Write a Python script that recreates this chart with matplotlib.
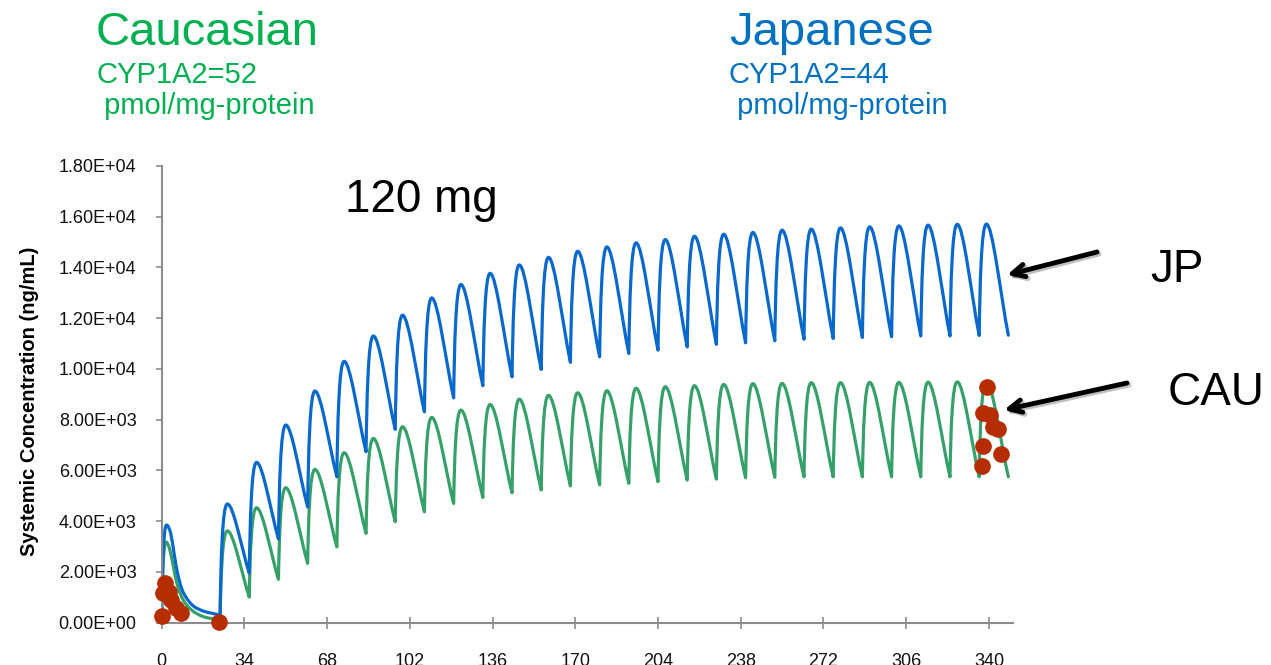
import matplotlib
matplotlib.use("Agg")
import matplotlib.pyplot as plt
import matplotlib.patheffects as pe
from matplotlib.path import Path
from matplotlib.patches import PathPatch
from matplotlib.ticker import FuncFormatter

plt.rcParams['font.family'] = ['Liberation Sans', 'DejaVu Sans']

# dosing schedule (h): single dose, then q12h from 24 h
dose_times = [0] + list(range(24, 337, 12))
end_time = 348

# simulated peaks after each dose and troughs at the end of each interval (ng/mL)
jp_peak = [3850, 4680, 6320, 7790, 9130, 10300, 11300, 12120, 12800, 13330,
           13770, 14100, 14400, 14640, 14810, 14970, 15100, 15230, 15310, 15380,
           15470, 15510, 15560, 15600, 15640, 15670, 15700, 15710]
jp_trough = [300, 1950, 3300, 4560, 5750, 6740, 7620, 8310, 8860, 9340,
             9690, 9980, 10260, 10480, 10610, 10740, 10870, 10970, 11030, 11110,
             11170, 11200, 11240, 11270, 11300, 11300, 11320, 11330]
cau_peak = [3180, 3620, 4530, 5320, 6040, 6700, 7260, 7720, 8090, 8380,
            8600, 8810, 8960, 9060, 9140, 9240, 9300, 9340, 9390, 9420,
            9430, 9460, 9460, 9470, 9470, 9480, 9490, 9490]
cau_trough = [110, 1010, 1710, 2340, 2990, 3520, 3980, 4370, 4700, 4940,
              5120, 5230, 5390, 5430, 5490, 5560, 5620, 5660, 5710, 5730,
              5750, 5750, 5750, 5750, 5750, 5750, 5750, 5750]

# time of peak after the first dose / later doses (h)
jp_tmax = (2.0, 3.0)
cau_tmax = (1.8, 3.0)

# decline after the single first dose
jp_tail_t = [3.7, 5.1, 6.4, 8.2, 10.3, 13.0, 17.1]
jp_tail_c = [3520, 2730, 2010, 1350, 960, 660, 460]
cau_tail_t = [3.4, 4.8, 6.4, 8.9, 12.3, 17.1]
cau_tail_c = [2860, 2210, 1490, 890, 500, 240]

# observed concentrations
obs_t = [0.3, 0.4, 1.5, 3.0, 3.8, 5.9, 7.9, 23.6,
         339.1, 337.7, 340.6, 341.6, 343.6, 337.7, 345.0, 337.0]
obs_c = [260, 1180, 1570, 1200, 890, 570, 370, 30,
         9300, 8250, 8180, 7700, 7620, 6960, 6650, 6170]

JP_BLUE = '#0868CC'
CAU_GREEN = '#36A06A'
OBS_RED = '#B62D02'
AXIS_GRAY = '#8C8C8C'


def profile_path(peaks, troughs, tmax, tail_t, tail_c):
    t_ends = dose_times[1:] + [end_time]
    verts, codes = [(0, 0)], [Path.MOVETO]
    c_start = 0
    for i, (t0, t1) in enumerate(zip(dose_times, t_ends)):
        cp, c1 = peaks[i], troughs[i]
        tp = t0 + (tmax[0] if i == 0 else tmax[1])
        hr = tp - t0
        # absorption: steep rise rounding into the peak
        verts += [(t0 + 0.1 * hr, c_start + 0.45 * (cp - c_start)),
                  (tp - 0.7 * hr, cp), (tp, cp)]
        codes += [Path.CURVE4] * 3
        if i == 0:
            ts = [tp] + tail_t + [t1]
            cs = [cp] + tail_c + [c1]
            slopes = [0.0]
            for k in range(1, len(ts) - 1):
                slopes.append((cs[k + 1] - cs[k - 1]) / (ts[k + 1] - ts[k - 1]))
            slopes.append((cs[-1] - cs[-2]) / (ts[-1] - ts[-2]))
            for k in range(len(ts) - 1):
                h = ts[k + 1] - ts[k]
                verts += [(ts[k] + h / 3, cs[k] + slopes[k] * h / 3),
                          (ts[k + 1] - h / 3, cs[k + 1] - slopes[k + 1] * h / 3),
                          (ts[k + 1], cs[k + 1])]
                codes += [Path.CURVE4] * 3
        else:
            h = t1 - tp
            verts += [(tp + 0.28 * h, cp),
                      (t1 - 0.35 * h, c1 + 0.35 * (cp - c1)), (t1, c1)]
            codes += [Path.CURVE4] * 3
        c_start = c1
    return Path(verts, codes)


fig = plt.figure(figsize=(12.71, 6.65), dpi=100)
ax = fig.add_axes([0.1272, 0.0636, 0.6700, 0.6868])

ax.add_patch(PathPatch(profile_path(cau_peak, cau_trough, cau_tmax, cau_tail_t, cau_tail_c),
                       fill=False, edgecolor=CAU_GREEN, lw=2.3, capstyle='round', joinstyle='round'))
ax.add_patch(PathPatch(profile_path(jp_peak, jp_trough, jp_tmax, jp_tail_t, jp_tail_c),
                       fill=False, edgecolor=JP_BLUE, lw=2.3, capstyle='round', joinstyle='round'))
ax.plot(obs_t, obs_c, 'o', color=OBS_RED, ms=11, mec=OBS_RED, zorder=5, clip_on=False)

ax.set_xlim(0, 350)
ax.set_ylim(0, 18000)
ax.set_xticks(range(0, 341, 34))
ax.set_yticks(range(0, 18001, 2000))
ax.yaxis.set_major_formatter(FuncFormatter(lambda v, p: f"{v:.2E}"))

for side in ['top', 'right']:
    ax.spines[side].set_visible(False)
for side in ['left', 'bottom']:
    ax.spines[side].set_color(AXIS_GRAY)
    ax.spines[side].set_linewidth(1.5)
ax.tick_params(axis='y', direction='out', length=4, width=1.2, color=AXIS_GRAY,
               labelsize=13, pad=14, labelcolor='#111111')
ax.tick_params(axis='x', direction='inout', length=8, width=1.2, color=AXIS_GRAY,
               labelsize=13, pad=18, labelcolor='#111111')

fig.text(30 / 1271, 1 - 401 / 665, 'Systemic Concentration (ng/mL)', rotation=90,
         ha='center', va='center', fontsize=14.5, fontweight='bold')

fig.text(345 / 1271, 1 - 212 / 665, '120 mg', fontsize=33, color='black')

fig.text(96 / 1271, 1 - 45 / 665, 'Caucasian', fontsize=34, color='#00B050')
fig.text(96 / 1271, 1 - 83 / 665, 'CYP1A2=52', fontsize=21, color='#00B050')
fig.text(96 / 1271, 1 - 114 / 665, ' pmol/mg-protein', fontsize=21, color='#00B050')

fig.text(729 / 1271, 1 - 45 / 665, 'Japanese', fontsize=34, color='#0070C0')
fig.text(729 / 1271, 1 - 83 / 665, 'CYP1A2=44', fontsize=21, color='#0070C0')
fig.text(729 / 1271, 1 - 114 / 665, ' pmol/mg-protein', fontsize=21, color='#0070C0')

fig.text(1150 / 1271, 1 - 282 / 665, 'JP', fontsize=33, color='black')
fig.text(1168 / 1271, 1 - 405 / 665, 'CAU', fontsize=33, color='black')

for tail, tip in [((1097, 252), (1007, 275)), ((1127, 383), (1004, 410))]:
    ann = ax.annotate('', xy=(tip[0], 665 - tip[1]), xycoords='figure pixels',
                      xytext=(tail[0], 665 - tail[1]), textcoords='figure pixels',
                      arrowprops=dict(arrowstyle='->,head_length=0.9,head_width=0.45',
                                      lw=3.5, color='black', shrinkA=0, shrinkB=0))
    ann.arrow_patch.set_path_effects([pe.SimpleLineShadow(offset=(1.5, -1.5), alpha=0.25),
                                      pe.Normal()])

fig.savefig('out.png', dpi=100)
